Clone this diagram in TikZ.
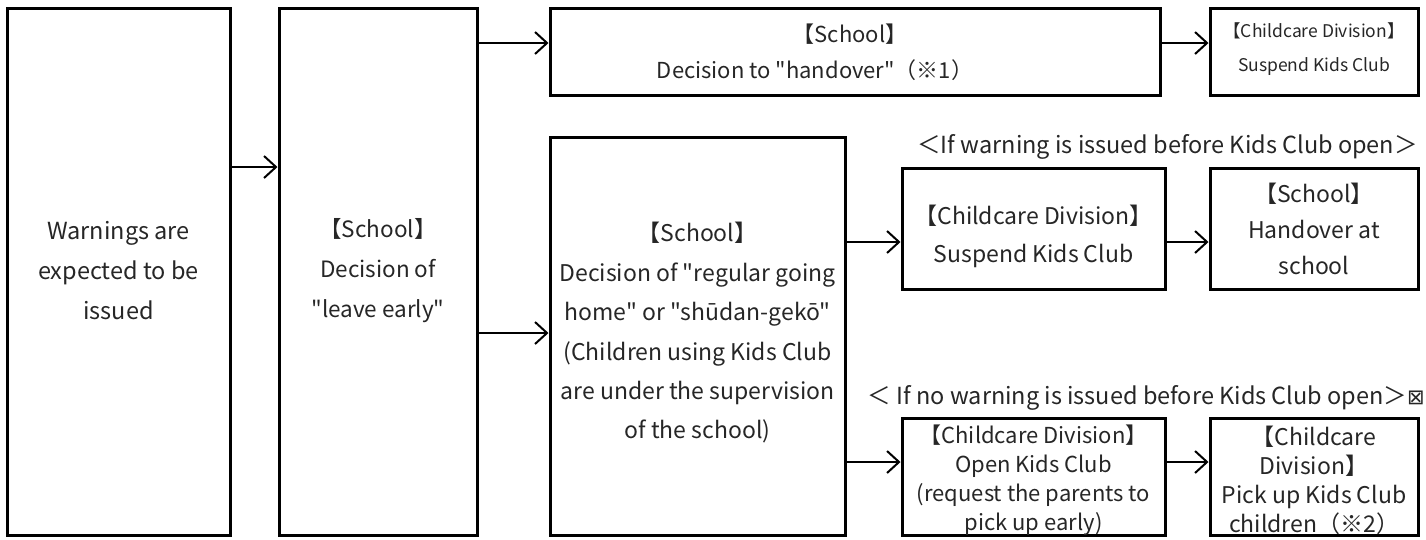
\documentclass[tikz,border=0pt]{standalone}
\usepackage{fontspec}
\setmainfont{Noto Sans CJK JP}[Ligatures=TeXOff]
\newfontfamily\symfont{DejaVu Sans}
\usetikzlibrary{arrows.meta}
\begin{document}
\begin{tikzpicture}[x=1pt,y=-1pt,
  box/.style={draw, line width=3pt, inner sep=0pt},
  txt/.style={align=center, inner sep=0pt, text=black!85},
  conn/.style={line width=2pt, -{Straight Barb[length=12pt,width=22pt,line width=2pt]}},
  lbl/.style={font=\fontsize{23.5}{26}\selectfont, inner sep=0pt, text=black!85}]
\useasboundingbox (0,0) rectangle (1426,539);
% boxes
\node[box, minimum width=223pt, minimum height=527pt] (A) at (118.5,271.5) {};
\node[box, minimum width=198pt, minimum height=527pt] (B) at (378,271.5) {};
\node[box, minimum width=610pt, minimum height=87pt] (C) at (855,51.5) {};
\node[box, minimum width=208pt, minimum height=87pt] (D) at (1314,51.5) {};
\node[box, minimum width=295pt, minimum height=398pt] (E) at (697.5,336) {};
\node[box, minimum width=263pt, minimum height=121pt] (F) at (1033.5,228.5) {};
\node[box, minimum width=208pt, minimum height=121pt] (G) at (1314,228.5) {};
\node[box, minimum width=263pt, minimum height=117pt] (H) at (1033.5,476.5) {};
\node[box, minimum width=208pt, minimum height=117pt] (I) at (1314,476.5) {};
% texts
\node[txt, font=\fontsize{23.5}{40}\selectfont] (At) at ([yshift=1pt]A.center)
  {Warnings are\\expected to be\\issued};
\node[txt, font=\fontsize{22.5}{40}\selectfont] (Bt) at ([yshift=1pt]B.center)
  {【School】\\Decision of\\"leave early"};
\node[txt, font=\fontsize{22}{36}\selectfont] (Ct) at ([xshift=-40pt,yshift=-1pt]C.center)
  {\hspace*{70pt}【School】\\Decision to "handover"（※1）};
\node[txt, font=\fontsize{17.5}{34}\selectfont] (Dt) at ([yshift=2pt]D.center)
  {【Childcare Division】\\Suspend Kids Club};
\node[txt, font=\fontsize{23}{39.4}\selectfont] (Et) at ([yshift=3pt]E.center)
  {【School】\\Decision of "regular going\\home" or "shūdan-gekō"\\(Children using Kids Club\\are under the supervision\\of the school)};
\node[txt, font=\fontsize{23}{38}\selectfont] (Ft) at ([yshift=-8pt]F.center)
  {【Childcare Division】\\Suspend Kids Club};
\node[txt, font=\fontsize{23}{36}\selectfont] (Gt) at (G.center)
  {【School】\\Handover at\\school};
\node[txt, font=\fontsize{22}{29}\selectfont] (Ht) at ([yshift=-4pt]H.center)
  {【Childcare Division】\\Open Kids Club\\(request the parents to\\pick up early)};
\node[txt, font=\fontsize{23}{29}\selectfont] (It) at ([yshift=-4pt]I.center)
  {【Childcare\\Division】\\Pick up Kids Club\\children（※2）};
% labels
\node[lbl, anchor=east] (L1) at (1418,147) {＜If warning is issued before Kids Club open＞};
\node[lbl, anchor=east] (L2) at (1425,398)
  {＜ If no warning is issued before Kids Club open＞{\symfont\fontsize{21}{21}\selectfont ⊠}};
% rows
\coordinate (r1) at (0,43);
\coordinate (r2) at (0,167);
\coordinate (r3) at (0,333);
\coordinate (r4) at (0,242);
\coordinate (r5) at (0,462);
% connectors
\draw[conn] (A.east |- r2) -- (B.west |- r2);
\draw[conn] (B.east |- r1) -- (C.west |- r1);
\draw[conn] (B.east |- r3) -- (E.west |- r3);
\draw[conn] (C.east |- r1) -- (D.west |- r1);
\draw[conn] (E.east |- r4) -- (F.west |- r4);
\draw[conn] (F.east |- r4) -- (G.west |- r4);
\draw[conn] (E.east |- r5) -- (H.west |- r5);
\draw[conn] (H.east |- r5) -- (I.west |- r5);
\end{tikzpicture}
\end{document}
